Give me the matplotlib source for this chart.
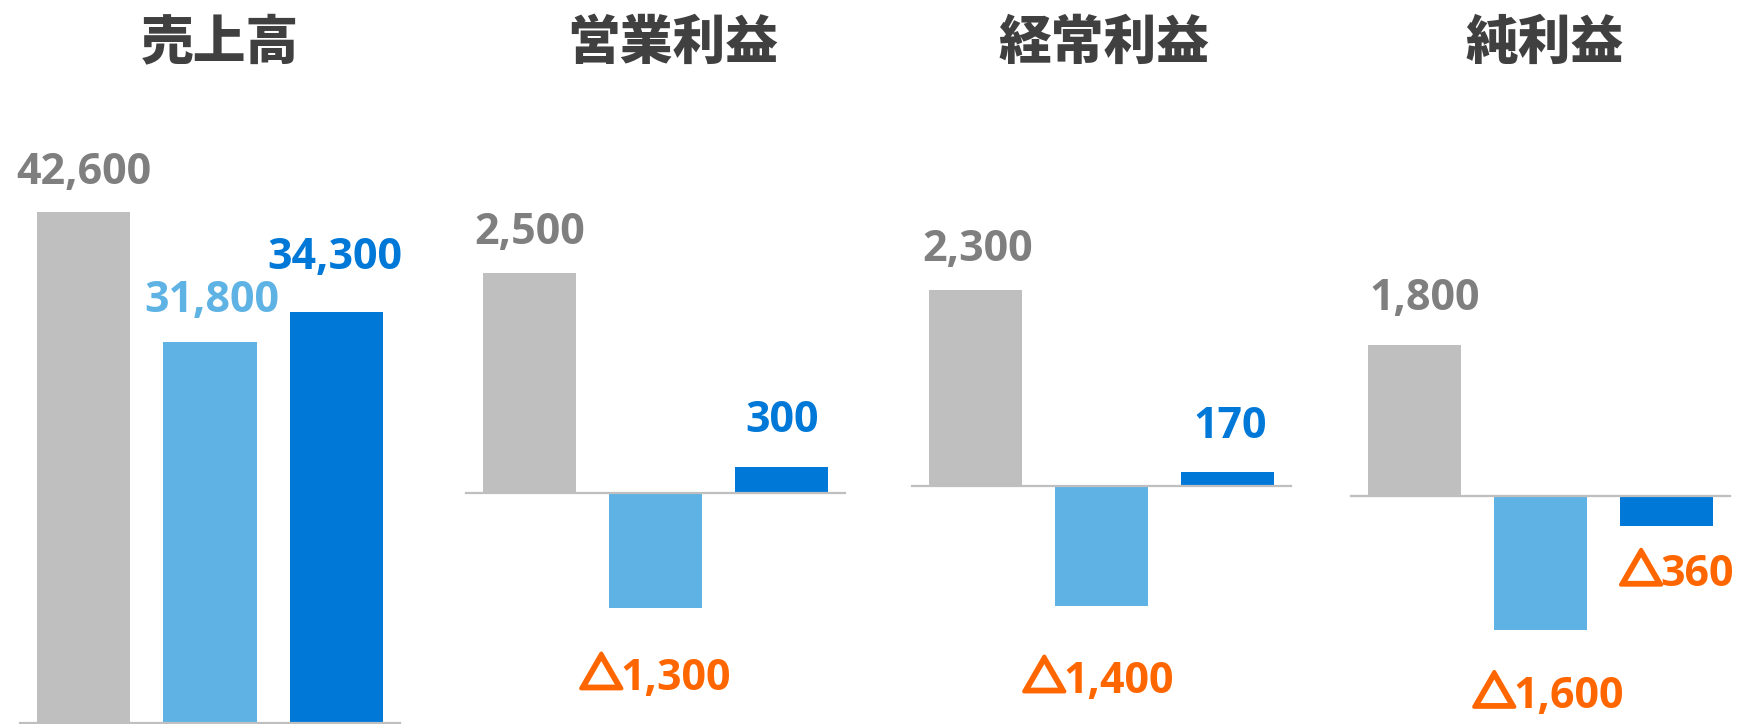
import matplotlib
matplotlib.use("Agg")
import matplotlib.pyplot as plt
import matplotlib.patheffects as pe

# values (million yen) - three periods per metric
titles = ['売上高', '営業利益', '経常利益', '純利益']
period1 = [42600, 2500, 2300, 1800]
period2 = [31800, -1300, -1400, -1600]
period3 = [34300, 300, 170, -360]

bar_colors = ['#BFBFBF', '#5EB3E4', '#0078D7']
label_colors = ['#7F7F7F', '#5EB3E4', '#0078D7']
neg_color = '#FF6600'

W, H = 1739, 724

# layout in pixels: axis x-span, baseline y, px per unit
panel_x = [(20, 400), (466, 845), (912, 1291), (1351, 1730)]
panel_base = [723, 493.3, 486.3, 496]
panel_scale = [0.011995, 0.0882, 0.0855, 0.084]
title_x = [220, 673, 1104, 1545]
# label offsets (dx, dy) in pixels from the bar end to the text baseline
label_off = [
    [(0, 28), (2, 30), (-2, 43)],
    [(1, 29), (0, -82), (0, 35)],
    [(2, 29), (-3, -87), (2, 34)],
    [(11, 35), (8, -78), (10, -60)],
]

num_font = ['Open Sans', 'Noto Sans CJK JP']

fig = plt.figure(figsize=(W / 100, H / 100), dpi=100)
renderer = fig.canvas.get_renderer()

for p in range(4):
    x0, x1 = panel_x[p]
    ax = fig.add_axes([x0 / W, 0, (x1 - x0) / W, 1])
    k = panel_scale[p]
    base = panel_base[p]
    ax.set_ylim(-(H - base) / k, base / k)
    ax.set_xlim(-0.5, 2.5)

    vals = [period1[p], period2[p], period3[p]]
    ax.bar(range(3), vals, width=0.736, color=bar_colors, zorder=2)
    ax.axhline(0, color='#BFBFBF', lw=1.6, zorder=3, clip_on=False)

    for i, v in enumerate(vals):
        dx, dy = label_off[p][i]
        num = f'{abs(v):,}'
        if v >= 0:
            ax.annotate(num, xy=(i, v), xytext=(dx, dy), textcoords='offset pixels',
                        ha='center', va='baseline', fontsize=31, fontweight='bold',
                        color=label_colors[i], family=num_font, annotation_clip=False)
            continue
        # negative: heavy triangle + number, centred together
        t = ax.annotate(num, xy=(i, v), xytext=(dx, dy), textcoords='offset pixels',
                        ha='left', va='baseline', fontsize=31, fontweight='bold',
                        color=neg_color, family=num_font, annotation_clip=False)
        tri = ax.annotate('△', xy=(i, v), xytext=(dx, dy), textcoords='offset pixels',
                          ha='right', va='baseline', fontsize=31, fontweight='bold',
                          color=neg_color, family=['Noto Sans CJK JP', 'DejaVu Sans'],
                          annotation_clip=False,
                          path_effects=[pe.withStroke(linewidth=2.8, foreground=neg_color)])
        nw = t.get_window_extent(renderer).width
        tw = tri.get_window_extent(renderer).width
        space = -2
        left = dx - (tw + nw + space) / 2
        tri.xyann = (left + tw, dy + 1)
        t.xyann = (left + tw + space, dy)
    ax.axis('off')

    fig.text(title_x[p] / W, 1 - 43 / H, titles[p], ha='center', va='center',
             fontsize=38, fontweight='black', color='#404040',
             family=['Noto Sans CJK JP', 'DejaVu Sans'])

fig.savefig('out.png', dpi=100)
